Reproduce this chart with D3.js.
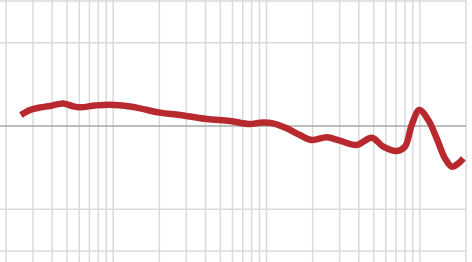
<!DOCTYPE html>
<html lang="en">
<head>
  <meta charset="UTF-8">
  <title>Frequency response</title>
  <style>
    body { margin: 0; background: #fff; }
  </style>
</head>
<body>

  <svg id="svg" width="472" height="262"></svg>

  <script src="https://d3js.org/d3.v7.min.js"></script>
  <script>
    // response curve, frequency in Hz and level in dB
    const freqs = [25, 28.7, 33.3, 38.7, 47.1, 53.9, 60.8, 76.1, 95.3, 128.7, 149.6, 202, 273, 407, 578,
      781, 907, 1102, 1354, 1652, 1971, 2468, 3014, 3873, 4853, 5778, 7064, 8000, 8850, 9922,
      11350, 12880, 14590, 16140, 17830, 19210]
    const levels = [1.32, 1.92, 2.22, 2.4, 2.7, 2.4, 2.24, 2.46, 2.56, 2.34, 2.12, 1.6, 1.32, 0.84, 0.6,
      0.24, 0.4, 0.32, -0.28, -1.08, -1.68, -1.36, -1.76, -2.28, -1.4, -2.48, -3.0, -2.48, 0.12, 1.92,
      0.72, -1.48, -3.88, -4.88, -4.48, -3.88]

    const gridFreqs = [20, 30, 40, 50, 60, 70, 80, 90, 100, 200, 300, 400, 500, 600, 700, 800, 900,
      1000, 2000, 3000, 4000, 5000, 6000, 7000, 8000, 9000, 10000, 20000]
    const gridDb = [15, 10, 0, -10, -15]

    const data = freqs.map((f, i) => ({ f: f, db: levels[i] }))

    const xScale = d3.scaleLog()
      .domain([20, 20000])
      .range([6, 466])

    const yScale = d3.scaleLinear()
      .domain([-15, 15])
      .range([251, 1])

    const svg = d3.select('#svg')

    // vertical grid
    svg.append('g')
      .selectAll('line')
      .data(gridFreqs)
      .enter()
      .append('line')
      .attr('x1', d => xScale(d))
      .attr('x2', d => xScale(d))
      .attr('y1', 0)
      .attr('y2', 262)
      .attr('stroke', '#dadada')
      .attr('stroke-width', 1.5)

    // horizontal grid, 0 dB darker
    svg.append('g')
      .selectAll('line')
      .data(gridDb)
      .enter()
      .append('line')
      .attr('x1', 0)
      .attr('x2', xScale(20000))
      .attr('y1', d => yScale(d))
      .attr('y2', d => yScale(d))
      .attr('stroke', d => d === 0 ? '#a8a8a8' : '#dadada')
      .attr('stroke-width', 1.5)

    const line = d3.line()
      .x(d => xScale(d.f))
      .y(d => yScale(d.db))
      .curve(d3.curveCatmullRom.alpha(0.5))

    svg.append('path')
      .datum(data)
      .attr('d', line)
      .attr('fill', 'none')
      .attr('stroke', '#b8292f')
      .attr('stroke-width', 6.5)
      .attr('stroke-linejoin', 'round')
  </script>
</body>
</html>
